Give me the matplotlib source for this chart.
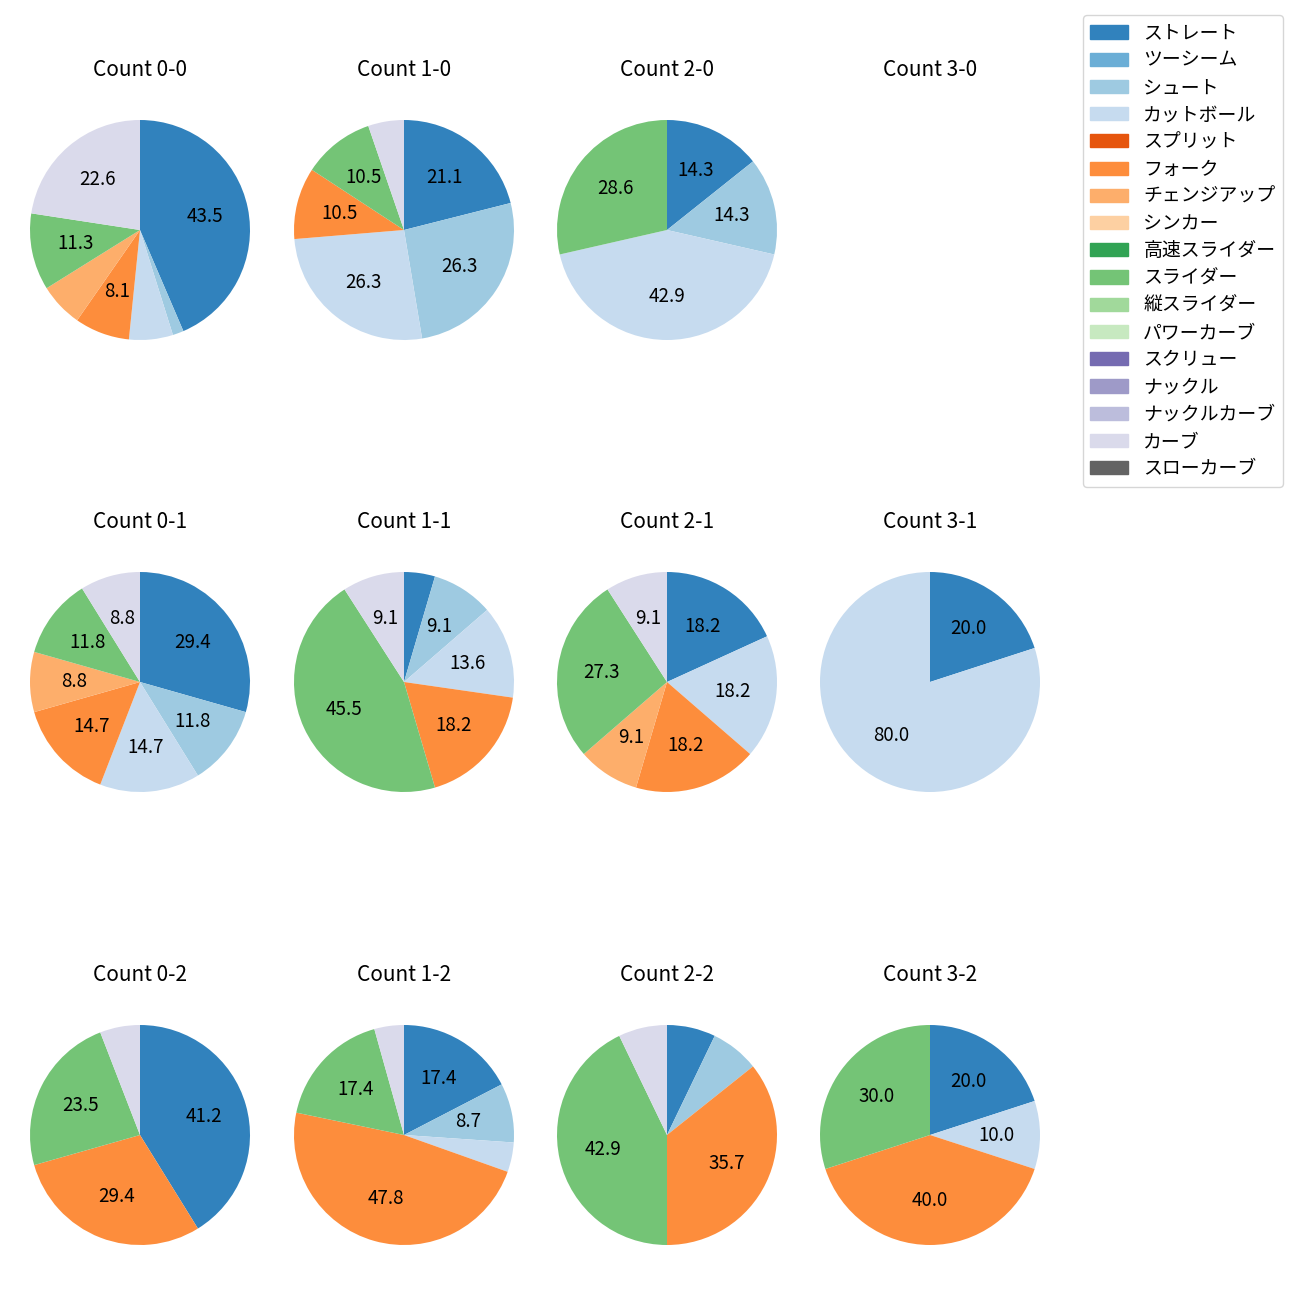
import numpy as np
import matplotlib.pyplot as plt
from matplotlib.patches import Patch

plt.rcParams['font.family'] = ['Noto Sans CJK JP', 'DejaVu Sans']

# Pitch types and colours (legend order)
pitch_types = ['ストレート', 'ツーシーム', 'シュート', 'カットボール', 'スプリット', 'フォーク',
               'チェンジアップ', 'シンカー', '高速スライダー', 'スライダー', '縦スライダー',
               'パワーカーブ', 'スクリュー', 'ナックル', 'ナックルカーブ', 'カーブ', 'スローカーブ']
pitch_colors = ['#3182bd', '#6baed6', '#9ecae1', '#c6dbef', '#e6550d', '#fd8d3c',
                '#fdae6b', '#fdd0a2', '#31a354', '#74c476', '#a1d99b',
                '#c7e9c0', '#756bb1', '#9e9ac8', '#bcbddc', '#dadaeb', '#636363']

# Pitch counts per ball-strike count, in legend order
#              St Tw Sh Ct Sp Fk Ch Si HS Sl VS PC Sc Kn KC Cv SC
count_0_0 = [27, 0, 1, 4, 0, 5, 4, 0, 0, 7, 0, 0, 0, 0, 0, 14, 0]
count_1_0 = [4, 0, 5, 5, 0, 2, 0, 0, 0, 2, 0, 0, 0, 0, 0, 1, 0]
count_2_0 = [1, 0, 1, 3, 0, 0, 0, 0, 0, 2, 0, 0, 0, 0, 0, 0, 0]
count_3_0 = [0] * 17
count_0_1 = [10, 0, 4, 5, 0, 5, 3, 0, 0, 4, 0, 0, 0, 0, 0, 3, 0]
count_1_1 = [1, 0, 2, 3, 0, 4, 0, 0, 0, 10, 0, 0, 0, 0, 0, 2, 0]
count_2_1 = [2, 0, 0, 2, 0, 2, 1, 0, 0, 3, 0, 0, 0, 0, 0, 1, 0]
count_3_1 = [1, 0, 0, 4, 0, 0, 0, 0, 0, 0, 0, 0, 0, 0, 0, 0, 0]
count_0_2 = [7, 0, 0, 0, 0, 5, 0, 0, 0, 4, 0, 0, 0, 0, 0, 1, 0]
count_1_2 = [4, 0, 2, 1, 0, 11, 0, 0, 0, 4, 0, 0, 0, 0, 0, 1, 0]
count_2_2 = [1, 0, 1, 0, 0, 5, 0, 0, 0, 6, 0, 0, 0, 0, 0, 1, 0]
count_3_2 = [2, 0, 0, 1, 0, 4, 0, 0, 0, 3, 0, 0, 0, 0, 0, 0, 0]

grid = [
    [('Count 0-0', count_0_0), ('Count 1-0', count_1_0), ('Count 2-0', count_2_0), ('Count 3-0', count_3_0)],
    [('Count 0-1', count_0_1), ('Count 1-1', count_1_1), ('Count 2-1', count_2_1), ('Count 3-1', count_3_1)],
    [('Count 0-2', count_0_2), ('Count 1-2', count_1_2), ('Count 2-2', count_2_2), ('Count 3-2', count_3_2)],
]

W = H = 1300
fig = plt.figure(figsize=(13, 13), dpi=100)

col_x = [140, 404, 667, 930]
row_y = [230, 682, 1135]
size = 275  # axes size in px, pie radius 110 px

for r, row in enumerate(grid):
    for c, (title, counts) in enumerate(row):
        ax = fig.add_axes([(col_x[c] - size / 2) / W, 1 - (row_y[r] + size / 2) / H,
                           size / W, size / H])
        counts = np.array(counts)
        mask = counts > 0
        if mask.any():
            ax.pie(counts[mask], colors=np.array(pitch_colors)[mask],
                   startangle=90, counterclock=False,
                   autopct=lambda p: f'{p:.1f}' if p >= 8 else '',
                   textprops={'fontsize': 13.5})
        ax.set_xlim(-1.25, 1.25)
        ax.set_ylim(-1.25, 1.25)
        ax.set_aspect('equal')
        ax.axis('off')
        ax.set_title(title, fontsize=15, pad=12)

handles = [Patch(color=col) for col in pitch_colors]
fig.legend(handles, pitch_types, loc='upper right',
           bbox_to_anchor=(1283 / W, 1 - 15 / H), borderaxespad=0,
           fontsize=13.6, labelspacing=0.33, frameon=True)

fig.savefig('out.png', dpi=100)
